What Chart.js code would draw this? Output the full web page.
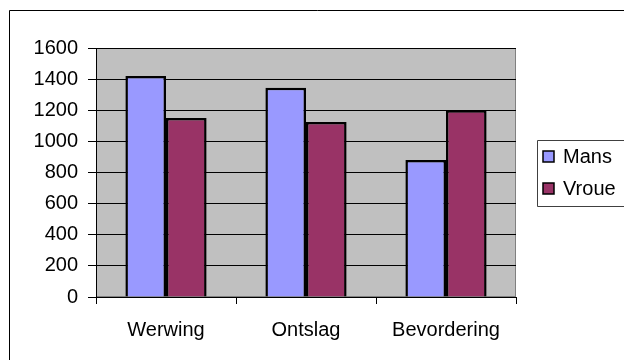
<!DOCTYPE html>
<html>
<head>
<meta charset="utf-8">
<script src="https://cdn.jsdelivr.net/npm/chart.js@4.4.1/dist/chart.umd.min.js"></script>
<style>
  html, body { margin: 0; padding: 0; background: #ffffff; }
  #wrap { width: 624px; height: 360px; position: relative; }
  canvas { display: block; }
</style>
</head>
<body>
<div id="wrap"><canvas id="c" width="624" height="360"></canvas></div>
<script>
// Categories, series and value-axis ticks
const categories = ['Werwing', 'Ontslag', 'Bevordering'];
const seriesNames = ['Mans', 'Vroue'];
const mansValues = [1420, 1345, 880];
const vroueValues = [1150, 1125, 1200];
const yTicks = [0, 200, 400, 600, 800, 1000, 1200, 1400, 1600];

const FONT = '"Liberation Sans", Arial, sans-serif';

// Grey plot area, drawn behind the bars
const plotBackground = {
  id: 'plotBackground',
  beforeDraw(chart) {
    const { ctx, chartArea: a } = chart;
    ctx.save();
    ctx.fillStyle = '#ffffff';
    ctx.fillRect(0, 0, chart.width, chart.height);
    ctx.fillStyle = '#c0c0c0';
    ctx.fillRect(a.left, a.top, a.right - a.left, a.bottom - a.top);
    ctx.strokeStyle = '#808080';
    ctx.lineWidth = 1;
    ctx.strokeRect(a.left + 0.5, a.top + 0.5, a.right - a.left - 1, a.bottom - a.top - 1);
    ctx.restore();
  }
};

// Outer chart frame and boxed legend on the right
const frameAndLegend = {
  id: 'frameAndLegend',
  afterDraw(chart) {
    const { ctx } = chart;
    ctx.save();
    ctx.strokeStyle = '#000000';
    ctx.lineWidth = 1;
    ctx.beginPath();
    ctx.moveTo(9.5, chart.height + 2);
    ctx.lineTo(9.5, 10.5);
    ctx.lineTo(chart.width + 2, 10.5);
    ctx.stroke();

    // legend box
    const lx = 537.5, ly = 140.5, lh = 66;
    ctx.strokeStyle = '#404040';
    ctx.beginPath();
    ctx.moveTo(chart.width + 2, ly);
    ctx.lineTo(lx, ly);
    ctx.lineTo(lx, ly + lh);
    ctx.lineTo(chart.width + 2, ly + lh);
    ctx.stroke();

    ctx.font = '20px ' + FONT;
    ctx.textBaseline = 'middle';
    ctx.textAlign = 'left';
    chart.data.datasets.forEach((ds, i) => {
      const cy = 156.5 + i * 32;
      ctx.fillStyle = ds.backgroundColor;
      ctx.fillRect(543, cy - 5.5, 11, 11);
      ctx.strokeStyle = '#000000';
      ctx.lineWidth = 1.5;
      ctx.strokeRect(543, cy - 5.5, 11, 11);
      ctx.fillStyle = '#000000';
      ctx.fillText(ds.label, 563, cy + 1);
    });
    ctx.restore();
  }
};

new Chart(document.getElementById('c'), {
  type: 'bar',
  data: {
    labels: categories,
    datasets: [
      {
        label: seriesNames[0],
        data: mansValues,
        backgroundColor: '#9999ff',
        borderColor: '#000000',
        borderWidth: 2.5
      },
      {
        label: seriesNames[1],
        data: vroueValues,
        backgroundColor: '#993366',
        borderColor: '#000000',
        borderWidth: 2.5
      }
    ]
  },
  options: {
    responsive: false,
    animation: false,
    devicePixelRatio: 1,
    layout: { padding: { left: 0, top: 48, right: 108, bottom: 0 } },
    plugins: {
      legend: { display: false },
      tooltip: { enabled: false }
    },
    datasets: {
      bar: { categoryPercentage: 0.58, barPercentage: 1.0 }
    },
    scales: {
      x: {
        grid: {
          offset: true,
          drawOnChartArea: false,
          drawTicks: true,
          tickLength: 7,
          color: '#000000'
        },
        border: { display: true, color: '#000000', width: 1 },
        ticks: {
          color: '#000000',
          font: { family: FONT, size: 20 },
          padding: 14,
          maxRotation: 0
        },
        afterFit(scale) { scale.height = 63; }
      },
      y: {
        min: yTicks[0],
        max: yTicks[yTicks.length - 1],
        grid: {
          color: '#000000',
          drawTicks: true,
          tickLength: 8
        },
        border: { display: true, color: '#000000', width: 1 },
        ticks: {
          stepSize: yTicks[1] - yTicks[0],
          color: '#000000',
          font: { family: FONT, size: 20 },
          padding: 10,
          callback: (v) => String(v)
        },
        afterFit(scale) { scale.width = 96; }
      }
    }
  },
  plugins: [plotBackground, frameAndLegend]
});
</script>
</body>
</html>
